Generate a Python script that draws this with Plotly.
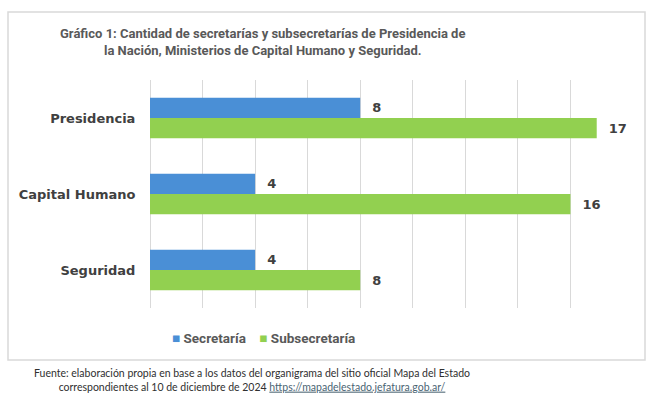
import plotly.graph_objects as go

categories = ["Presidencia", "Capital Humano", "Seguridad"]
secretaria = [8, 4, 4]
subsecretaria = [17, 16, 8]
series_names = ["Secretaría", "Subsecretaría"]

title_text = ("<b>Gráfico 1: Cantidad de secretarías y subsecretarías de Presidencia de<br>"
              "la Nación, Ministerios de Capital Humano y Seguridad.</b>")
footer_text = ("Fuente: elaboración propia en base a los datos del organigrama del sitio oficial Mapa del Estado<br>"
               "correspondientes al 10 de diciembre de 2024 "
               "<span style='color:#4A6473'><u>https://mapadelestado.jefatura.gob.ar/</u></span>")

BLUE = "#4A8FD6"
GREEN = "#92D050"
LABEL = "#404040"
colors = [BLUE, GREEN]

fig = go.Figure()
for name, vals, col in zip(series_names, [secretaria, subsecretaria], colors):
    fig.add_trace(go.Bar(
        y=categories, x=vals, name=name, orientation="h",
        marker=dict(color=col, line=dict(width=0)),
        text=vals, texttemplate="  %{x}", textposition="outside",
        textfont=dict(family="DejaVu Sans", size=13, color=LABEL, weight="bold"),
        cliponaxis=False, showlegend=False,
    ))

fig.update_layout(
    width=648, height=395,
    barmode="group", bargap=0.47, bargroupgap=0,
    paper_bgcolor="white", plot_bgcolor="white",
    margin=dict(l=150, r=25, t=80, b=87),
    xaxis=dict(range=[0, 18], dtick=2, showticklabels=False, showgrid=True,
               gridcolor="#D9D9D9", gridwidth=1, zeroline=True, zerolinecolor="#D9D9D9",
               zerolinewidth=1, showline=False, fixedrange=True),
    yaxis=dict(autorange="reversed", showgrid=False, showline=False, ticks="outside",
               ticklen=11, tickcolor="rgba(0,0,0,0)",
               tickfont=dict(family="DejaVu Sans", size=13, color=LABEL, weight="bold")),
    font=dict(family="Open Sans"),
)

fig.add_shape(type="rect", xref="paper", yref="paper",
              x0=(8 - 150) / 473, x1=(645 - 150) / 473,
              y0=(308 - 360) / 228, y1=(308 - 12) / 228,
              line=dict(color="#D9D9D9", width=1.5), fillcolor="rgba(0,0,0,0)", layer="below")

fig.add_annotation(xref="paper", yref="paper", x=(262 - 150) / 473, y=(308 - 42) / 228,
                   xanchor="center", yanchor="middle", showarrow=False, align="center",
                   text=title_text, font=dict(family="Roboto", size=13, color="#595959"))

NB = "\u00a0"
legend_text = (NB * 4).join(
    f"<span style='color:{c}'>■</span>{NB}<b>{n}</b>" for n, c in zip(series_names, colors))
fig.add_annotation(xref="paper", yref="paper", x=(263 - 150) / 473, y=(308 - 338) / 228,
                   xanchor="center", yanchor="middle", showarrow=False,
                   text=legend_text, font=dict(family="Roboto", size=13.5, color="#595959"))

fig.add_annotation(xref="paper", yref="paper", x=(252 - 150) / 473, y=(308 - 380) / 228,
                   xanchor="center", yanchor="middle", showarrow=False, align="center",
                   text=footer_text, font=dict(family="Lato", size=10.5, color="#303030"))

fig.write_html("out.html", post_script="document.body.style.margin='0';",
               config={"displayModeBar": False})
